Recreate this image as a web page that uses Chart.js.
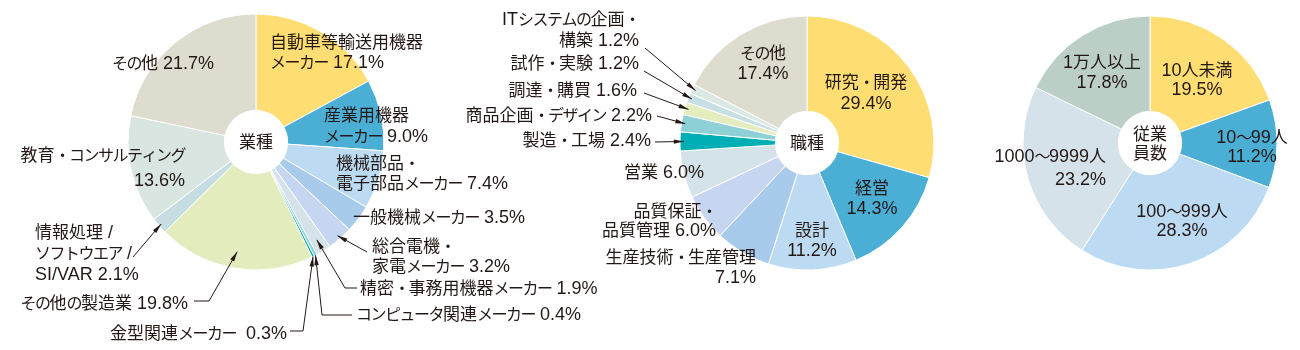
<!DOCTYPE html>
<html>
<head>
<meta charset="utf-8">
<script src="https://cdn.jsdelivr.net/npm/chart.js@4.4.1/dist/chart.umd.min.js"></script>
<style>
  html, body { margin: 0; padding: 0; background: #fff; }
  #wrap { position: relative; width: 1300px; height: 350px; }
  #wrap canvas { position: absolute; left: 0; top: 0; }
</style>
</head>
<body>
<div id="wrap">
  <canvas id="industry" width="1300" height="350"></canvas>
  <canvas id="job" width="1300" height="350"></canvas>
  <canvas id="size" width="1300" height="350"></canvas>
</div>
<script>
// 業種
const industryLabels = [
  "自動車等輸送用機器メーカー", "産業用機器メーカー", "機械部品・電子部品メーカー",
  "一般機械メーカー", "総合電機・家電メーカー", "精密・事務用機器メーカー",
  "コンピュータ関連メーカー", "金型関連メーカー", "その他の製造業",
  "情報処理/ソフトウエア/SI/VAR", "教育・コンサルティング", "その他",
];
const industryValues = [17.1, 9.0, 7.4, 3.5, 3.2, 1.9, 0.4, 0.3, 19.8, 2.1, 13.6, 21.7];

// 職種
const jobLabels = [
  "研究・開発", "経営", "設計", "生産技術・生産管理", "品質保証・品質管理", "営業",
  "製造・工場", "商品企画・デザイン", "調達・購買", "試作・実験", "ITシステムの企画・構築", "その他",
];
const jobValues = [29.4, 14.3, 11.2, 7.1, 6.0, 6.0, 2.4, 2.2, 1.6, 1.2, 1.2, 17.4];

// 従業員数
const sizeLabels = ["10人未満", "10～99人", "100～999人", "1000～9999人", "1万人以上"];
const sizeValues = [19.5, 11.2, 28.3, 23.2, 17.8];

// colours
const industryColors = [
  "#FEDE72", "#4BAFD5", "#BCDBF3", "#A8CAEB", "#C6D5F0", "#D4E2EA",
  "#8FD1D6", "#00A7B5", "#E2ECBC", "#C6DEE2", "#D9E5E0", "#DDDCCF",
];
const jobColors = [
  "#FEDE72", "#4BAFD5", "#BCDBF3", "#A8CAEB", "#C6D5F0", "#D4E2EA",
  "#00AFB6", "#8DD0D5", "#E4EDBE", "#C7DFE3", "#DCE8E3", "#DDDCCF",
];
const sizeColors = ["#FEDE72", "#4BAFD5", "#BCDBF3", "#D5E2EA", "#BBCFC7"];

// kanji, kana and latin are drawn at slightly different sizes to mimic the print typesetting
const fonts = {
  kanji: "17px 'Noto Sans CJK JP', sans-serif",
  kana: "16px 'Noto Sans CJK JP', sans-serif",
  latin: "18px 'Liberation Sans', Arial, sans-serif",
};
const spacing = { kanji: "0px", kana: "-1.5px", latin: "0px" };
const textColor = "#231815";

// label layout: lines ({v} = value), x, line y's, alignment, optional leader points, tip radius factor
const industryLayout = [
  { lines: ["自動車等輸送用機器", "メーカー {v}"], x: 270, y: [42, 62], align: "left" },
  { lines: ["産業用機器", "メーカー {v}"], x: 324, y: [115, 136], align: "left" },
  { lines: ["機械部品・", "電子部品メーカー {v}"], x: 336, y: [163, 183], align: "left" },
  { lines: ["一般機械メーカー {v}"], x: 353, y: [217], align: "left" },
  { lines: ["総合電機・", "家電メーカー {v}"], x: 372, y: [246, 266], align: "left", leader: [[367, 252]], k: 0.97 },
  { lines: ["精密・事務用機器メーカー {v}"], x: 360, y: [288], align: "left", leader: [[357, 288], [345, 288]], k: 0.9 },
  { lines: ["コンピュータ関連メーカー {v}"], x: 356, y: [314], align: "left", leader: [[352, 315], [322, 315]], k: 1.0 },
  { lines: ["金型関連メーカー  {v}"], x: 287, y: [333], align: "right", leader: [[290, 331], [303, 331]], k: 1.0 },
  { lines: ["その他の製造業 {v}"], x: 188, y: [303], align: "right", leader: [[194, 301], [209, 301]], k: 0.87 },
  { lines: ["情報処理 /", "ソフトウエア /", "SI/VAR {v}"], x: 35, y: [232, 253, 274], align: "left", leader: [[133, 257]], k: 0.98 },
  { lines: ["教育・コンサルティング", "{v}"], x: 185, y: [155, 180], align: "right" },
  { lines: ["その他 {v}"], x: 112, y: [63], align: "left" },
];
const jobLayout = [
  { lines: ["研究・開発", "{v}"], x: 866, y: [82, 103], align: "center" },
  { lines: ["経営", "{v}"], x: 872, y: [188, 208], align: "center" },
  { lines: ["設計", "{v}"], x: 812, y: [230, 250], align: "center" },
  { lines: ["生産技術・生産管理", "{v}"], x: 756, y: [257, 277], align: "right" },
  { lines: ["品質保証・", "品質管理 {v}"], x: 716, y: [211, 230], align: "right" },
  { lines: ["営業 {v}"], x: 624, y: [172], align: "left" },
  { lines: ["製造・工場 {v}"], x: 651, y: [140], align: "right", leader: [[655, 142]], k: 0.97 },
  { lines: ["商品企画・デザイン {v}"], x: 652, y: [115], align: "right", leader: [[657, 116]], k: 0.97 },
  { lines: ["調達・購買 {v}"], x: 637, y: [90], align: "right", leader: [[644, 93]], k: 0.97 },
  { lines: ["試作・実験 {v}"], x: 639, y: [63], align: "right", leader: [[644, 71]], k: 0.97 },
  { lines: ["ITシステムの企画・", "構築 {v}"], x: 639, y: [19, 40], align: "right", leader: [[645, 48]], k: 0.97 },
  { lines: ["その他", "{v}"], x: 763, y: [53, 73], align: "center" },
];
const sizeLayout = [
  { lines: ["10人未満", "{v}"], x: 1197, y: [70, 89], align: "center" },
  { lines: ["10～99人", "{v}"], x: 1252, y: [137, 156], align: "center" },
  { lines: ["100～999人", "{v}"], x: 1182, y: [211, 230], align: "center" },
  { lines: ["1000～9999人", "{v}"], x: 1106, y: [156, 179], align: "right" },
  { lines: ["1万人以上", "{v}"], x: 1102, y: [62, 82], align: "center" },
];

function charClass(ch) {
  const c = ch.codePointAt(0);
  if (c >= 0x4e00 && c <= 0x9fff) return "kanji";
  if (c >= 0x3000) return "kana";
  return "latin";
}

function setRunStyle(ctx, cls) {
  ctx.font = fonts[cls];
  if ("letterSpacing" in ctx) ctx.letterSpacing = spacing[cls];
}

// split a line into runs of the same class and draw them one after another
function drawText(ctx, text, x, y, align) {
  const runs = [];
  for (const ch of text) {
    const cls = charClass(ch);
    if (runs.length && runs[runs.length - 1].cls === cls) runs[runs.length - 1].s += ch;
    else runs.push({ cls, s: ch });
  }
  let total = 0;
  runs.forEach((r) => {
    setRunStyle(ctx, r.cls);
    r.w = ctx.measureText(r.s).width;
    total += r.w;
  });
  let cx = align === "left" ? x : align === "right" ? x - total : x - total / 2;
  ctx.textAlign = "left";
  runs.forEach((r) => {
    setRunStyle(ctx, r.cls);
    ctx.fillText(r.s, cx, y + 6);
    cx += r.w;
  });
  if ("letterSpacing" in ctx) ctx.letterSpacing = "0px";
}

function drawArrow(ctx, pts) {
  ctx.beginPath();
  ctx.moveTo(pts[0][0], pts[0][1]);
  for (let i = 1; i < pts.length; i++) ctx.lineTo(pts[i][0], pts[i][1]);
  ctx.stroke();
  const [x1, y1] = pts[pts.length - 2];
  const [x2, y2] = pts[pts.length - 1];
  const a = Math.atan2(y2 - y1, x2 - x1);
  const len = 10, half = 2.2;
  ctx.beginPath();
  ctx.moveTo(x2, y2);
  ctx.lineTo(x2 - len * Math.cos(a) + half * Math.sin(a), y2 - len * Math.sin(a) - half * Math.cos(a));
  ctx.lineTo(x2 - len * Math.cos(a) - half * Math.sin(a), y2 - len * Math.sin(a) + half * Math.cos(a));
  ctx.closePath();
  ctx.fill();
}

const labelPlugin = {
  id: "pieLabels",
  afterDatasetsDraw(chart, args, opts) {
    const ctx = chart.ctx;
    const meta = chart.getDatasetMeta(0);
    const values = chart.data.datasets[0].data;
    ctx.save();
    ctx.fillStyle = textColor;
    ctx.strokeStyle = textColor;
    ctx.lineWidth = 1;
    ctx.textBaseline = "alphabetic";
    opts.layout.forEach((lab, i) => {
      const arc = meta.data[i];
      const v = values[i].toFixed(1) + "%";
      lab.lines.forEach((line, j) => drawText(ctx, line.replace("{v}", v), lab.x, lab.y[j], lab.align));
      if (lab.leader) {
        const mid = (arc.startAngle + arc.endAngle) / 2;
        const tip = [arc.x + Math.cos(mid) * arc.outerRadius * lab.k, arc.y + Math.sin(mid) * arc.outerRadius * lab.k];
        drawArrow(ctx, [...lab.leader, tip]);
      }
    });
    // centre title
    const c = meta.data[0];
    const n = opts.center.length;
    opts.center.forEach((t, j) => drawText(ctx, t, c.x, c.y + (j - (n - 1) / 2) * 19, "center"));
    ctx.restore();
  },
};

function makePie(id, labels, values, colors, layout, center, cx, cy, r) {
  return new Chart(document.getElementById(id), {
    type: "doughnut",
    data: {
      labels,
      datasets: [{ data: values, backgroundColor: colors, borderColor: "#fff", borderWidth: 1 }],
    },
    options: {
      responsive: false,
      animation: false,
      events: [],
      radius: r,
      cutout: 32,
      layout: {
        padding: { left: cx - r - 2, right: 1300 - cx - r - 2, top: cy - r - 2, bottom: 350 - cy - r - 2 },
      },
      plugins: {
        legend: { display: false },
        tooltip: { enabled: false },
        pieLabels: { layout, center },
      },
    },
    plugins: [labelPlugin],
  });
}

makePie("industry", industryLabels, industryValues, industryColors, industryLayout, ["業種"], 256, 142, 128);
makePie("job", jobLabels, jobValues, jobColors, jobLayout, ["職種"], 807, 143, 127);
makePie("size", sizeLabels, sizeValues, sizeColors, sizeLayout, ["従業", "員数"], 1150, 143, 127);
</script>
</body>
</html>
